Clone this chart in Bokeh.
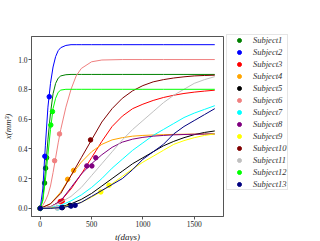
from bokeh.plotting import figure
from bokeh.models import Legend, LegendItem, FixedTicker, PrintfTickFormatter, Range1d
from bokeh.embed import file_html
from bokeh.resources import INLINE

# ---- data -------------------------------------------------------------
names = ["Subject1", "Subject2", "Subject3", "Subject4", "Subject5", "Subject6", "Subject7",
         "Subject8", "Subject9", "Subject10", "Subject11", "Subject12", "Subject13"]
colors = ["#008000", "#0000ff", "#ff0000", "#ffa500", "#000000", "#f08080", "#00ffff",
          "#800080", "#ffff00", "#800000", "#c0c0c0", "#00ff00", "#000080"]

t_fast = [0, 25, 50, 75, 100, 125, 150, 175, 200, 250, 300, 350, 400, 500, 600, 800, 1000, 1200, 1400, 1700]
t_slow = [0, 100, 200, 300, 400, 500, 600, 700, 800, 900, 1000, 1100, 1200, 1300, 1400, 1500, 1600, 1700]

# fitted curves (mm^3)
s1_fit = [0, 0.06, 0.25, 0.46, 0.64, 0.77, 0.84, 0.875, 0.89, 0.898, 0.9, 0.9, 0.9, 0.9, 0.9, 0.9, 0.9, 0.9, 0.9, 0.9]
s2_fit = [0, 0.13, 0.42, 0.68, 0.84, 0.95, 1.02, 1.06, 1.08, 1.095, 1.1, 1.1, 1.1, 1.1, 1.1, 1.1, 1.1, 1.1, 1.1, 1.1]
s6_fit = [0, 0.02, 0.05, 0.09, 0.15, 0.24, 0.34, 0.44, 0.53, 0.68, 0.8, 0.89, 0.94, 0.985, 0.997, 1.0, 1.0, 1.0, 1.0, 1.0]
s12_fit = [0, 0.05, 0.19, 0.36, 0.53, 0.67, 0.74, 0.78, 0.795, 0.8, 0.8, 0.8, 0.8, 0.8, 0.8, 0.8, 0.8, 0.8, 0.8, 0.8]

s3_fit = [0, 0.01, 0.05, 0.13, 0.23, 0.34, 0.45, 0.55, 0.62, 0.67, 0.7, 0.725, 0.745, 0.76, 0.772, 0.781, 0.788, 0.794]
s4_fit = [0, 0.03, 0.11, 0.22, 0.31, 0.38, 0.43, 0.46, 0.475, 0.485, 0.49, 0.493, 0.495, 0.497, 0.498, 0.499, 0.5, 0.5]
s5_fit = [0, 0.003, 0.01, 0.03, 0.06, 0.1, 0.15, 0.2, 0.25, 0.3, 0.34, 0.38, 0.42, 0.45, 0.475, 0.495, 0.51, 0.52]
s7_fit = [0, 0.005, 0.02, 0.05, 0.09, 0.14, 0.2, 0.27, 0.33, 0.39, 0.44, 0.49, 0.53, 0.57, 0.61, 0.64, 0.665, 0.69]
s8_fit = [0, 0.01, 0.05, 0.14, 0.23, 0.3, 0.36, 0.41, 0.445, 0.465, 0.477, 0.485, 0.49, 0.494, 0.496, 0.498, 0.499, 0.5]
s9_fit = [0, 0.002, 0.008, 0.02, 0.04, 0.075, 0.115, 0.165, 0.215, 0.265, 0.31, 0.35, 0.39, 0.43, 0.455, 0.475, 0.49, 0.5]
s10_fit = [0, 0.03, 0.1, 0.22, 0.34, 0.46, 0.58, 0.67, 0.74, 0.79, 0.825, 0.85, 0.865, 0.876, 0.884, 0.89, 0.893, 0.895]
s11_fit = [0, 0.01, 0.04, 0.08, 0.14, 0.22, 0.3, 0.38, 0.46, 0.53, 0.59, 0.65, 0.71, 0.76, 0.8, 0.84, 0.865, 0.885]
s13_fit = [0, 0.0, 0.005, 0.015, 0.04, 0.08, 0.12, 0.16, 0.2, 0.26, 0.33, 0.38, 0.43, 0.5, 0.55, 0.59, 0.63, 0.67]

# measured points (days, mm^3)
s1_t, s1_x = [0, 42, 52, 62], [0, 0.17, 0.27, 0.34]
s2_t, s2_x = [0, 45, 88], [0, 0.35, 0.75]
s3_t, s3_x = [0, 195, 215], [0, 0.045, 0.05]
s4_t, s4_x = [0, 267, 325], [0, 0.195, 0.255]
s5_t, s5_x = [0, 215, 290], [0, 0.005, 0.02]
s6_t, s6_x = [0, 140, 188], [0, 0.32, 0.5]
s7_t, s7_x = [0, 170], [0, 0.003]
s8_t, s8_x = [0, 454, 503, 541], [0, 0.285, 0.285, 0.34]
s9_t, s9_x = [0, 590, 670], [0, 0.11, 0.155]
s10_t, s10_x = [0, 490], [0, 0.46]
s11_t, s11_x = [0, 165], [0, 0.002]
s12_t, s12_x = [0, 103, 119], [0, 0.56, 0.65]
s13_t, s13_x = [0, 210, 300, 340], [0, 0.005, 0.015, 0.02]

fits = [(t_fast, s1_fit), (t_fast, s2_fit), (t_slow, s3_fit), (t_slow, s4_fit), (t_slow, s5_fit),
        (t_fast, s6_fit), (t_slow, s7_fit), (t_slow, s8_fit), (t_slow, s9_fit), (t_slow, s10_fit),
        (t_slow, s11_fit), (t_fast, s12_fit), (t_slow, s13_fit)]
points = [(s1_t, s1_x), (s2_t, s2_x), (s3_t, s3_x), (s4_t, s4_x), (s5_t, s5_x), (s6_t, s6_x),
          (s7_t, s7_x), (s8_t, s8_x), (s9_t, s9_x), (s10_t, s10_x), (s11_t, s11_x),
          (s12_t, s12_x), (s13_t, s13_x)]

x_ticks = [0, 500, 1000, 1500]
y_ticks = [0.0, 0.2, 0.4, 0.6, 0.8, 1.0]

# ---- figure -----------------------------------------------------------
SERIF = "Liberation Serif"
p = figure(frame_width=192, frame_height=180, output_backend="svg", toolbar_location=None,
           x_range=Range1d(-85, 1785), y_range=Range1d(-0.055, 1.155),
           min_border_left=24, min_border_right=70, min_border_top=36, min_border_bottom=25)
p.grid.visible = False
p.outline_line_color = "#555555"
p.outline_line_width = 1
p.background_fill_color = "white"
p.border_fill_color = "white"

for ax in (p.xaxis[0], p.yaxis[0]):
    ax.axis_line_color = "#555555"
    ax.major_tick_line_color = "#555555"
    ax.minor_tick_line_color = None
    ax.major_tick_out = 3
    ax.major_tick_in = 0
    ax.major_label_standoff = 1
    ax.axis_label_standoff = 2
    ax.major_label_text_font = SERIF
    ax.major_label_text_font_size = "7.5px"
    ax.major_label_text_color = "#222222"
    ax.axis_label_text_font = SERIF
    ax.axis_label_text_font_style = "italic"
    ax.axis_label_text_font_size = "9px"
    ax.axis_label_text_color = "#222222"

p.xaxis.ticker = FixedTicker(ticks=x_ticks)
p.yaxis.ticker = FixedTicker(ticks=y_ticks)
p.yaxis.formatter = PrintfTickFormatter(format="%.1f")
p.xaxis.axis_label = "t(days)"
p.yaxis.axis_label = "x(mm³)"

items = []
for name, col, (ft, fx), (pt, px) in zip(names, colors, fits, points):
    p.line(ft, fx, line_color=col, line_width=1.0)
    r = p.scatter(pt, px, size=4.5, fill_color=col, line_color=col)
    items.append(LegendItem(label=name, renderers=[r]))

legend = Legend(items=items, location=(3, 26), margin=0, padding=0, spacing=2,
                glyph_width=24, glyph_height=10, label_height=10, label_standoff=2,
                label_text_font=SERIF, label_text_font_style="italic",
                label_text_font_size="8.5px", label_text_color="#333333",
                border_line_color="#cccccc", border_line_width=1,
                background_fill_color="white")
p.add_layout(legend, "right")

open("out.html", "w").write(file_html(p, INLINE))
